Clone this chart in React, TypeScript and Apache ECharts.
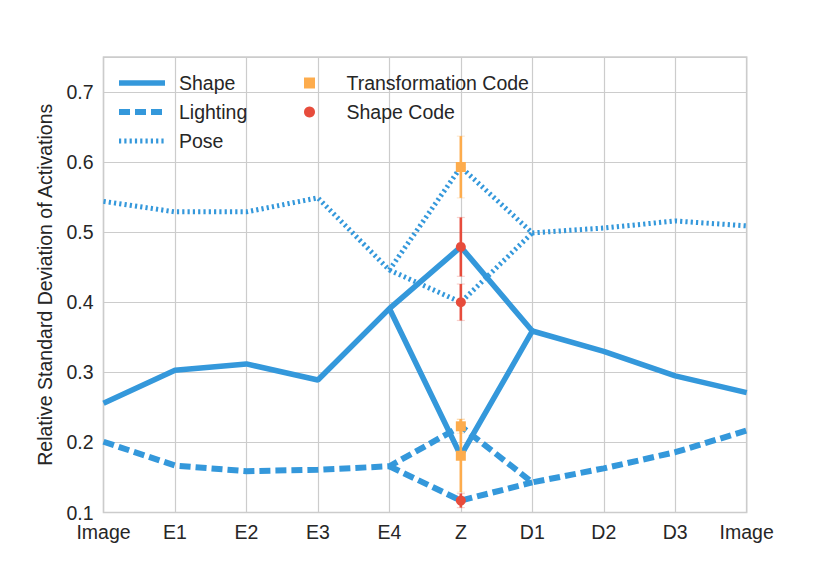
import React, { useEffect, useRef } from "react";
import * as echarts from "echarts";

const categories = ["Image", "E1", "E2", "E3", "E4", "Z", "D1", "D2", "D3", "Image"];
const Z_POS = 5;
// line values per position (the Z entry comes from the code arrays below)
const shapeValues = [0.256, 0.303, 0.312, 0.289, 0.391, null, 0.359, 0.33, 0.295, 0.271];
const lightingValues = [0.201, 0.167, 0.159, 0.161, 0.166, null, 0.143, 0.163, 0.186, 0.217];
const poseValues = [0.544, 0.529, 0.529, 0.549, 0.446, null, 0.499, 0.506, 0.516, 0.509];
// values at Z, order: Shape, Lighting, Pose
const transformationCodeZ = [0.181, 0.223, 0.593];
const transformationCodeErr = [0.052, 0.01, 0.044];
const shapeCodeZ = [0.479, 0.117, 0.4];
const shapeCodeErr = [0.042, 0.01, 0.026];
const yTicks = [0.1, 0.2, 0.3, 0.4, 0.5, 0.6, 0.7];

const BLUE = "#3498db";
const ORANGE = "#fdac4d";
const RED = "#e74c3c";
const TEXT = "#262626";
const GRIDC = "#cccccc";
const FONT = "'Liberation Sans', Arial, Helvetica, sans-serif";
const FS = 19.5;

function fullLine(values: (number | null)[], z: number) {
  return values.map((v, i) => [i, i === Z_POS ? z : v]);
}
function branch(values: (number | null)[], z: number) {
  return [
    [Z_POS - 1, values[Z_POS - 1]],
    [Z_POS, z],
    [Z_POS + 1, values[Z_POS + 1]],
  ];
}

function lineSeries(name: string, data: any[], lineStyle: any) {
  return {
    type: "line",
    name,
    data,
    symbol: "none",
    showSymbol: false,
    lineStyle: { color: BLUE, ...lineStyle },
    itemStyle: { color: BLUE },
    z: 2,
  };
}

function errSeries(vals: number[], errs: number[], color: string) {
  return {
    type: "custom",
    data: vals.map((v, i) => [Z_POS, v - errs[i], v + errs[i]]),
    encode: { x: 0, y: [1, 2] },
    z: 3,
    renderItem: (params: any, api: any) => {
      const x = api.value(0);
      const p1 = api.coord([x, api.value(1)]);
      const p2 = api.coord([x, api.value(2)]);
      return {
        type: "group",
        children: [
          {
            type: "line",
            shape: { x1: p1[0], y1: p1[1], x2: p2[0], y2: p2[1] },
            style: { stroke: color, lineWidth: 2.6 },
          },
          {
            type: "line",
            shape: { x1: p1[0] - 4, y1: p1[1], x2: p1[0] + 4, y2: p1[1] },
            style: { stroke: color, lineWidth: 1.2, opacity: 0.25 },
          },
          {
            type: "line",
            shape: { x1: p2[0] - 4, y1: p2[1], x2: p2[0] + 4, y2: p2[1] },
            style: { stroke: color, lineWidth: 1.2, opacity: 0.25 },
          },
        ],
      };
    },
  };
}

export default function App() {
  const ref = useRef<HTMLDivElement>(null);
  useEffect(() => {
    if (!ref.current) return;
    const chart = echarts.init(ref.current, undefined, { renderer: "svg" });
    const shapeStyle = { width: 5.5, type: "solid" };
    const lightStyle = { width: 6, type: [11, 5] };
    const poseStyle = { width: 5, type: [2.2, 3.1] };
    const legendText = { fontSize: FS, color: TEXT, fontFamily: FONT, padding: [0, 0, 0, 9] };
    chart.setOption({
      animation: false,
      backgroundColor: "#ffffff",
      textStyle: { fontFamily: FONT },
      grid: {
        left: 103.5,
        right: 83.3,
        top: 57,
        bottom: 58.5,
        show: true,
        borderColor: GRIDC,
        borderWidth: 1.5,
        backgroundColor: "#ffffff",
        containLabel: false,
        outerBoundsMode: "none",
      },
      legend: [
        {
          data: ["Shape", "Lighting", "Pose"],
          orient: "vertical",
          left: 116,
          top: 73,
          itemWidth: 46,
          itemHeight: 14,
          itemGap: 9,
          padding: 0,
          selectedMode: false,
          itemStyle: { opacity: 0 },
          lineStyle: { width: "inherit", type: "inherit" },
          textStyle: legendText,
        },
        {
          data: [
            { name: "Transformation Code", icon: "path://M0,0L10,0L10,10L0,10Z" },
            { name: "Shape Code", icon: "circle" },
          ],
          orient: "vertical",
          left: 304,
          top: 73,
          itemWidth: 46,
          itemHeight: 11,
          itemGap: 9,
          padding: 0,
          selectedMode: false,
          textStyle: legendText,
        },
      ],
      xAxis: {
        type: "value",
        min: 0,
        max: categories.length - 1,
        interval: 1,
        axisLine: { show: false },
        axisTick: { show: false },
        splitLine: { show: true, lineStyle: { color: GRIDC, width: 1.2 } },
        axisLabel: {
          fontSize: FS,
          lineHeight: 16,
          color: TEXT,
          fontFamily: FONT,
          margin: 11,
          formatter: (v: number) => categories[Math.round(v)] ?? "",
        },
      },
      yAxis: {
        type: "value",
        min: yTicks[0],
        max: 0.75,
        interval: 0.1,
        name: "Relative Standard Deviation of Activations",
        nameLocation: "middle",
        nameRotate: 90,
        nameGap: 46,
        nameTextStyle: { fontSize: FS, color: TEXT, fontFamily: FONT },
        axisLine: { show: false },
        axisTick: { show: false },
        splitLine: { show: true, lineStyle: { color: GRIDC, width: 1.2 } },
        axisLabel: {
          fontSize: FS,
          lineHeight: 16,
          color: TEXT,
          fontFamily: FONT,
          margin: 10,
          padding: [0, 0, 2, 0],
          showMaxLabel: false,
          formatter: (v: number) => {
            const t = yTicks.find((k) => Math.abs(k - v) < 1e-6);
            return t === undefined ? "" : t.toFixed(1);
          },
        },
      },
      series: [
        lineSeries("Shape", fullLine(shapeValues, transformationCodeZ[0]), shapeStyle),
        lineSeries("Shape", branch(shapeValues, shapeCodeZ[0]), shapeStyle),
        lineSeries("Lighting", fullLine(lightingValues, transformationCodeZ[1]), lightStyle),
        lineSeries("Lighting", branch(lightingValues, shapeCodeZ[1]), lightStyle),
        lineSeries("Pose", fullLine(poseValues, transformationCodeZ[2]), poseStyle),
        lineSeries("Pose", branch(poseValues, shapeCodeZ[2]), poseStyle),
        errSeries(transformationCodeZ, transformationCodeErr, ORANGE),
        errSeries(shapeCodeZ, shapeCodeErr, RED),
        {
          type: "scatter",
          name: "Transformation Code",
          data: transformationCodeZ.map((v) => [Z_POS, v]),
          symbol: "rect",
          symbolSize: 10,
          itemStyle: { color: ORANGE, opacity: 1 },
          z: 4,
        },
        {
          type: "scatter",
          name: "Shape Code",
          data: shapeCodeZ.map((v) => [Z_POS, v]),
          symbol: "circle",
          symbolSize: 10,
          itemStyle: { color: RED, opacity: 1 },
          z: 4,
        },
      ],
    });
    return () => chart.dispose();
  }, []);
  return (
    <div
      ref={ref}
      style={{ position: "fixed", left: 0, top: 0, width: 830, height: 571, background: "#fff" }}
    />
  );
}
